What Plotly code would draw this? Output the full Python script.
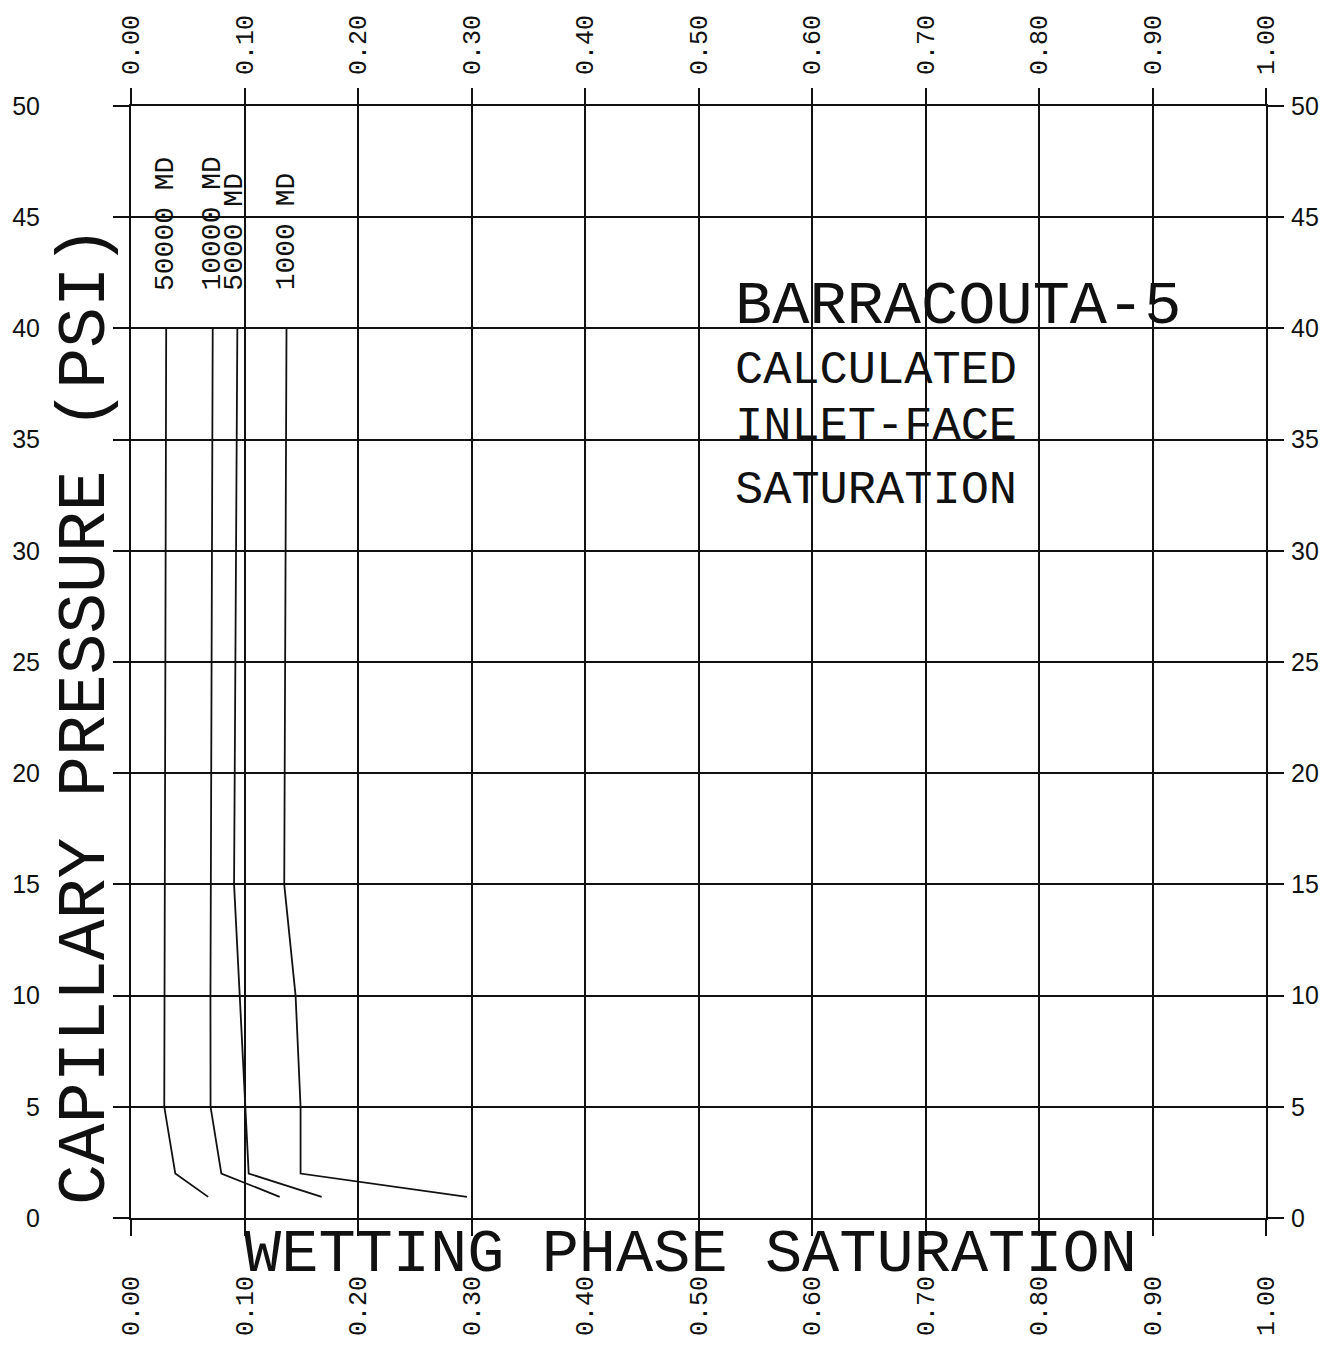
import plotly.graph_objects as go

# ---- data ----
pressure = [40, 15, 10, 5, 2, 0.95]
sat_50000 = [0.031, 0.030, 0.0295, 0.0293, 0.039, 0.068]
sat_10000 = [0.072, 0.070, 0.070, 0.0701, 0.0796, 0.131]
sat_5000 = [0.0937, 0.0908, 0.0958, 0.1008, 0.1037, 0.168]
sat_1000 = [0.137, 0.135, 0.145, 0.1494, 0.1494, 0.296]

curve_names = ["50000 MD", "10000 MD", "5000 MD", "1000 MD"]
curves = [sat_50000, sat_10000, sat_5000, sat_1000]
label_x = [0.031, 0.072, 0.0915, 0.137]

x_ticks = [i / 10 for i in range(11)]
x_ticktext = [f"{v:.2f}" for v in x_ticks]
y_ticks = list(range(0, 51, 5))
y_ticktext = [str(v) for v in y_ticks]

FONT = "Liberation Mono"
SANS = "Liberation Sans"
INK = "#111111"

fig = go.Figure()
for name, xs in zip(curve_names, curves):
    fig.add_trace(go.Scatter(x=xs, y=pressure, mode="lines", name=name,
                             line=dict(color=INK, width=1.8), showlegend=False,
                             hoverinfo="skip"))
# transparent copy on the mirrored axes so the top / right scales are drawn
fig.add_trace(go.Scatter(x=sat_1000, y=pressure, mode="lines", xaxis="x2", yaxis="y2",
                         opacity=0, showlegend=False, hoverinfo="skip",
                         line=dict(color=INK, width=1)))

axis_common = dict(showline=True, linecolor=INK, linewidth=2, ticks="outside",
                   ticklen=16, tickwidth=2, tickcolor=INK, zeroline=False,
                   automargin=False)
xfont = dict(family=FONT, size=25, color=INK)
yfont = dict(family=SANS, size=25, color=INK)

fig.update_layout(
    width=1333, height=1353,
    margin=dict(l=123, r=75, t=98, b=143),
    paper_bgcolor="white", plot_bgcolor="white",
    showlegend=False,
    xaxis=dict(range=[0, 1], tickvals=x_ticks, ticktext=x_ticktext, tickangle=-90,
               showgrid=True, gridcolor=INK, gridwidth=1.8, side="bottom",
               ticklabelstandoff=30, tickfont=xfont, **axis_common),
    xaxis2=dict(range=[0, 1], tickvals=x_ticks, ticktext=x_ticktext, tickangle=-90,
                overlaying="x", side="top", showgrid=False, anchor="y",
                ticklabelstandoff=8, tickfont=xfont, **axis_common),
    yaxis=dict(range=[0, 50], tickvals=y_ticks, ticktext=y_ticktext,
               showgrid=True, gridcolor=INK, gridwidth=1.8, side="left",
               ticklabelstandoff=68, tickfont=yfont, **axis_common),
    yaxis2=dict(range=[0, 50], tickvals=y_ticks, ticktext=y_ticktext,
                overlaying="y", side="right", showgrid=False, anchor="x",
                ticklabelstandoff=2, tickfont=yfont, **axis_common),
)

annotations = []
for name, lx in zip(curve_names, label_x):
    annotations.append(dict(x=lx, y=41.6, xref="x", yref="y", text=name,
                            textangle=-90, showarrow=False, xanchor="center",
                            yanchor="bottom",
                            font=dict(family=FONT, size=28, color=INK)))

annotations.append(dict(x=0.53, y=41.0, xref="x", yref="y", text="BARRACOUTA-5",
                        showarrow=False, xanchor="left", yanchor="middle",
                        font=dict(family=FONT, size=62, color=INK)))
for txt, yy in [("CALCULATED", 38.1), ("INLET-FACE", 35.6), ("SATURATION", 32.7)]:
    annotations.append(dict(x=0.53, y=yy, xref="x", yref="y", text=txt,
                            showarrow=False, xanchor="left", yanchor="middle",
                            font=dict(family=FONT, size=47, color=INK)))

annotations.append(dict(x=-0.04, y=22.6, xref="paper", yref="y",
                        text="CAPILLARY PRESSURE (PSI)", textangle=-90,
                        showarrow=False, xanchor="center", yanchor="middle",
                        font=dict(family=FONT, size=68, color=INK)))
annotations.append(dict(x=0.493, y=-0.033, xref="x", yref="paper",
                        text="WETTING PHASE SATURATION",
                        showarrow=False, xanchor="center", yanchor="middle",
                        font=dict(family=FONT, size=62, color=INK)))
fig.update_layout(annotations=annotations)

fig.write_html("out.html")
